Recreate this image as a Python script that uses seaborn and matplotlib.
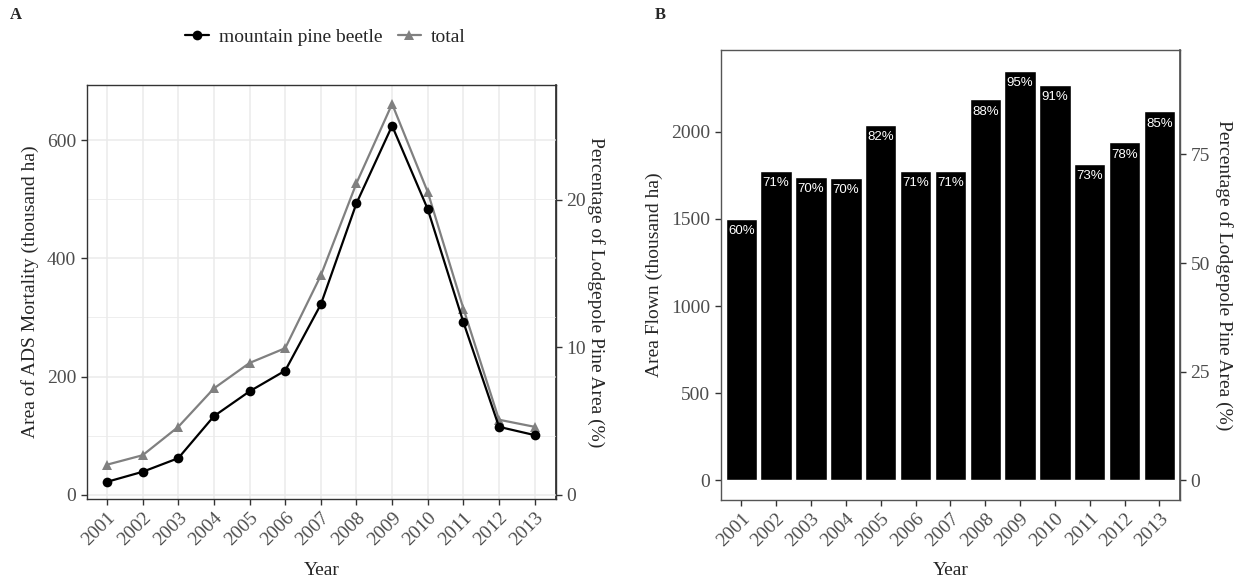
import pandas as pd
import seaborn as sns
import matplotlib.pyplot as plt
from matplotlib.lines import Line2D
from matplotlib.ticker import MultipleLocator

years = list(range(2001, 2014))
mpb_mortality = [22, 39, 62, 133, 175, 210, 322, 493, 624, 483, 292, 115, 101]
total_mortality = [51, 67, 115, 180, 223, 248, 371, 527, 661, 512, 315, 127, 115]
area_flown = [1500, 1774, 1742, 1738, 2042, 1774, 1774, 2186, 2350, 2272, 1813, 1939, 2117]
flown_pct = ["60%", "71%", "70%", "70%", "82%", "71%", "71%", "88%", "95%", "91%", "73%", "78%", "85%"]
lodgepole_area = 2494  # thousand ha, basis of the % axes

sns.set_theme(style="white")
plt.rcParams["font.family"] = ["Liberation Serif", "DejaVu Serif"]
plt.rcParams["axes.unicode_minus"] = False

TICK_COL = "#4D4D4D"
FS = 14


def to_pct(y):
    return y / lodgepole_area * 100


def from_pct(p):
    return p * lodgepole_area / 100


def style_axis(ax, edge):
    for s in ax.spines.values():
        s.set_visible(True)
        s.set_color(edge)
        s.set_linewidth(1.0)
    ax.tick_params(which="major", direction="out", length=4.5, width=1.0, color="#333333",
                   labelcolor=TICK_COL, labelsize=FS, pad=3,
                   bottom=True, left=True)
    ax.tick_params(which="minor", length=0)
    for lab in ax.get_xticklabels():
        lab.set_rotation(45)
        lab.set_ha("right")
        lab.set_va("top")
        lab.set_rotation_mode("anchor")


fig = plt.figure(figsize=(12.42, 5.83), dpi=100)
ax1 = fig.add_axes([0.0698, 0.1441, 0.3779, 0.7101])
ax2 = fig.add_axes([0.5803, 0.1432, 0.3698, 0.7707])

# ---- panel A: mortality lines
df_mort = pd.DataFrame({
    "Year": years * 2,
    "area": total_mortality + mpb_mortality,
    "agent": ["total"] * len(years) + ["mountain pine beetle"] * len(years),
})
palette = {"mountain pine beetle": "black", "total": "#808080"}
sns.lineplot(data=df_mort, x="Year", y="area", hue="agent", style="agent",
             markers={"mountain pine beetle": "o", "total": "^"}, dashes=False,
             palette=palette, linewidth=1.6, markersize=7, markeredgewidth=0,
             legend=False, ax=ax1)
ax1.set_xlim(2000.43, 2013.6)
ax1.set_ylim(-7, 693)
ax1.set_xticks(years)
ax1.set_xticklabels([str(y) for y in years])
ax1.yaxis.set_major_locator(MultipleLocator(200))
ax1.yaxis.set_minor_locator(MultipleLocator(100))
ax1.set_axisbelow(True)
ax1.grid(which="major", color="#EBEBEB", linewidth=1.1)
ax1.grid(which="minor", axis="y", color="#EBEBEB", linewidth=0.6)
ax1.set_xlabel("Year", fontsize=FS, labelpad=9)
ax1.set_ylabel("Area of ADS Mortality (thousand ha)", fontsize=FS, labelpad=6)
style_axis(ax1, "#333333")

sec1 = ax1.secondary_yaxis("right", functions=(to_pct, from_pct))
sec1.set_yticks([0, 10, 20])
sec1.tick_params(length=4.5, width=1.0, color="#333333", labelcolor=TICK_COL, labelsize=FS, pad=3)
sec1.spines["right"].set_color("#333333")
sec1.set_ylabel("Percentage of Lodgepole Pine Area (%)", fontsize=FS, rotation=270,
                va="bottom", labelpad=1)

handles = [
    Line2D([], [], color="black", marker="o", markersize=7, markeredgewidth=0, linewidth=1.6),
    Line2D([], [], color="#808080", marker="^", markersize=7, markeredgewidth=0, linewidth=1.6),
]
fig.legend(handles, ["mountain pine beetle", "total"], loc="center",
           bbox_to_anchor=(0.262, 0.936), ncol=2, frameon=False, fontsize=FS,
           handlelength=1.2, handletextpad=0.5, columnspacing=0.8)

# ---- panel B: area flown bars
df_flown = pd.DataFrame({"Year": [str(y) for y in years], "area": area_flown})
sns.barplot(data=df_flown, x="Year", y="area", color="black", saturation=1,
            edgecolor="white", linewidth=1.0, width=0.9, ax=ax2)
ax2.bar_label(ax2.containers[0], labels=flown_pct, padding=-13, color="white",
              fontsize=9.5, family="Liberation Sans")
ax2.set_xlim(-0.59, 12.59)
ax2.set_ylim(-111, 2469)
ax2.yaxis.set_major_locator(MultipleLocator(500))
ax2.grid(False)
ax2.set_xlabel("Year", fontsize=FS, labelpad=9)
ax2.set_ylabel("Area Flown (thousand ha)", fontsize=FS, labelpad=6)
style_axis(ax2, "#555555")

sec2 = ax2.secondary_yaxis("right", functions=(to_pct, from_pct))
sec2.set_yticks([0, 25, 50, 75])
sec2.tick_params(length=4.5, width=1.0, color="#333333", labelcolor=TICK_COL, labelsize=FS, pad=3)
sec2.spines["right"].set_color("#555555")
sec2.set_ylabel("Percentage of Lodgepole Pine Area (%)", fontsize=FS, rotation=270,
                va="bottom", labelpad=4)

fig.text(0.008, 0.975, "A", fontsize=12, fontweight="bold", va="center")
fig.text(0.527, 0.975, "B", fontsize=12, fontweight="bold", va="center")

fig.savefig("out.png", dpi=100)
